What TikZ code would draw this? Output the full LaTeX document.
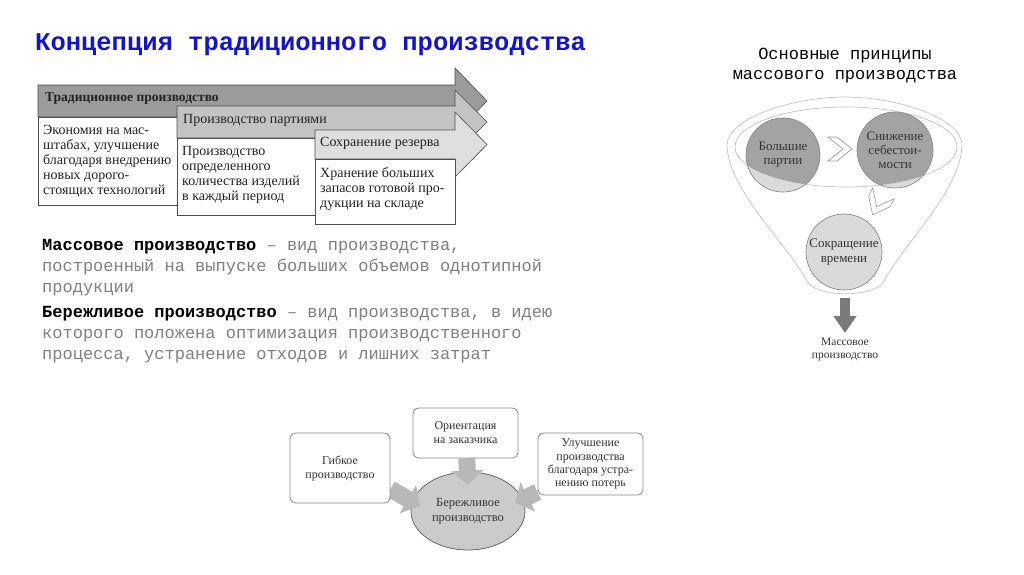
\documentclass[tikz,border=0pt]{standalone}
\usepackage{fontspec}
\setmainfont{Liberation Serif}
\setmonofont{Liberation Mono}
\usetikzlibrary{shapes.geometric, arrows.meta, positioning, backgrounds}
\pgfdeclarelayer{front}
\pgfsetlayers{background,main,front}
\definecolor{TitleBlue}{HTML}{1414C8}
\definecolor{BodyGray}{HTML}{808080}
\definecolor{BandDark}{HTML}{9B9B9B}
\definecolor{BandMid}{HTML}{C3C3C3}
\definecolor{BandLight}{HTML}{DEDEDE}
\definecolor{BandEdge}{HTML}{4D4D4D}
\definecolor{NoteText}{HTML}{222222}
\definecolor{FunnelLine}{HTML}{C4C4C4}
\definecolor{DiscDark}{HTML}{A3A3A3}
\definecolor{DiscLight}{HTML}{DADADA}
\definecolor{DiscEdge}{HTML}{8C8C8C}
\definecolor{ChevronEdge}{HTML}{999999}
\definecolor{MassArrow}{HTML}{7A7A7A}
\definecolor{LeanEdge}{HTML}{8A8A8A}
\definecolor{LeanArrow}{HTML}{B8B8B8}
\definecolor{CoreFill}{HTML}{CBCBCB}
\definecolor{CoreEdge}{HTML}{6A6A6A}
\definecolor{LeanText}{HTML}{333333}
\tikzset{
    % Headings and definitions
    headline/.style={
        anchor=base west,
        inner sep=0pt,
        text=TitleBlue,
        font=\ttfamily\bfseries\fontsize{25.5}{30}\selectfont
    },
    subhead/.style={
        anchor=north,
        inner sep=0pt,
        align=center,
        font=\ttfamily\fontsize{17}{20}\selectfont
    },
    definition/.style={
        anchor=north west,
        inner sep=0pt,
        align=left,
        text=BodyGray,
        font=\ttfamily\fontsize{17}{21}\selectfont
    },
    % Stage arrows (traditional production)
    band/.style={
        draw=BandEdge,
        line width=0.6pt
    },
    band label/.style={
        anchor=base west,
        inner sep=0pt,
        text=NoteText,
        font=\fontsize{14}{15}\selectfont
    },
    note box/.style={
        rectangle,
        draw=BandEdge,
        fill=white,
        line width=0.6pt,
        anchor=north west,
        inner sep=0pt
    },
    note text/.style={
        anchor=north west,
        inner sep=0pt,
        align=left,
        text=NoteText,
        font=\fontsize{14}{15}\selectfont
    },
    % Funnel of mass production
    funnel line/.style={
        draw=FunnelLine,
        line width=0.7pt
    },
    disc/.style={
        circle,
        draw=DiscEdge,
        line width=0.7pt,
        inner sep=0pt,
        align=center,
        text=LeanText,
        font=\fontsize{13}{14}\selectfont
    },
    chevron/.style={
        draw=ChevronEdge,
        fill=white,
        line width=0.6pt
    },
    mass arrow/.style={
        draw=MassArrow,
        line width=10pt,
        -{Triangle[width=22pt,length=17pt]}
    },
    % Lean production
    lean box/.style={
        rectangle,
        rounded corners=6pt,
        draw=LeanEdge,
        fill=white,
        line width=0.8pt,
        inner sep=0pt,
        align=center,
        text=LeanText,
        font=\fontsize{12}{14}\selectfont
    },
    lean core/.style={
        ellipse,
        draw=CoreEdge,
        fill=CoreFill,
        line width=0.8pt,
        inner sep=0pt,
        minimum width=114pt,
        minimum height=78pt,
        align=center,
        text=LeanText,
        font=\fontsize{12.5}{15}\selectfont
    },
    lean arrow/.style={
        draw=LeanArrow,
        line width=17pt,
        -{Triangle[width=32pt,length=14pt]}
    }
}

\begin{document}
\begin{tikzpicture}[x=1pt, y=-1pt]
    \begin{scope}[on background layer]
        \fill[white] (0,0) rectangle (1024,574);
    \end{scope}
    \useasboundingbox (0,0) rectangle (1024,574);

    % Titles
    \node[headline] (title) at (35,50) {Концепция традиционного производства};
    \node[subhead] (principles) at (845,47.5) {Основные принципы\\массового производства};

    % Stage 1
    \path[band, fill=BandDark] (38,85) -- (455,85) -- (455,68) -- (487,101) -- (455,134) -- (455,117) -- (38,117) -- cycle;
    \node[band label, font=\bfseries\fontsize{13.5}{15}\selectfont] (tradition) at (45,101) {Традиционное производство};
    \node[note box, minimum width=139pt, minimum height=88pt] (econ box) at (38,117) {};
    \node[note text] (econ) at ([xshift=5pt,yshift=-8pt]econ box.north west) {Экономия на мас-\\штабах, улучшение\\благодаря внедрению\\новых дорого-\\стоящих технологий};

    % Stage 2
    \path[band, fill=BandMid] (177,106) -- (455,106) -- (455,90) -- (487,122) -- (455,154) -- (455,138) -- (177,138) -- cycle;
    \node[band label] (batches) at (183,123) {Производство партиями};
    \node[note box, minimum width=138pt, minimum height=77pt] (batch box) at (177,138) {};
    \node[note text] (batch) at ([xshift=5pt,yshift=-8pt]batch box.north west) {Производство\\определенного\\количества изделий\\в каждый период};

    % Stage 3
    \path[band, fill=BandLight] (315,130) -- (455,130) -- (455,112) -- (487,144.5) -- (455,177) -- (455,159) -- (315,159) -- cycle;
    \node[band label] (reserve) at (320,146) {Сохранение резерва};
    \node[note box, minimum width=140pt, minimum height=65pt] (stock box) at (315,159) {};
    \node[note text] (stock) at ([xshift=5pt,yshift=-8pt]stock box.north west) {Хранение больших\\запасов готовой про-\\дукции на складе};

    % Definitions
    \node[definition] (mass def) at (42,239.5) {\textcolor{black}{\bfseries Массовое производство} – вид производства,\\построенный на выпуске больших объемов однотипной\\продукции};
    \node[definition] (lean def) at (42,306.5) {\textcolor{black}{\bfseries Бережливое производство} – вид производства, в идею\\которого положена оптимизация производственного\\процесса, устранение отходов и лишних затрат};

    % Funnel
    \path[funnel line, fill=white] (727,145) .. controls (727,118.5) and (792,97) .. (845,97)
        .. controls (898,97) and (962,118.5) .. (962,145)
        .. controls (961,190) and (903,245) .. (884,281)
        .. controls (876,298) and (815,298) .. (807,281)
        .. controls (788,245) and (728,190) .. (727,145) -- cycle;
    \draw[funnel line] (846,147) ellipse [x radius=111pt, y radius=40pt];

    \coordinate (batch c) at (783,155);
    \coordinate (cost c) at (895,150);
    \fill[DiscLight] (batch c) circle[radius=37pt];
    \fill[DiscLight] (cost c) circle[radius=38pt];
    \begin{scope}
        \clip (846,147) ellipse [x radius=111pt, y radius=40pt];
        \fill[DiscDark] (batch c) circle[radius=37pt];
        \fill[DiscDark] (cost c) circle[radius=38pt];
    \end{scope}
    \node[disc, minimum size=74pt] (big batch) at (batch c) {Большие\\партии};
    \node[disc, minimum size=76pt] (cost) at (cost c) {Снижение\\себестои-\\мости};
    \node[disc, fill=DiscLight, minimum size=76pt, font=\fontsize{13}{15}\selectfont] (time) at (844,252) {Сокращение\\времени};

    \path[chevron, shift={(840,149)}] (-12,-12) -- (-3,-12) -- (12,0) -- (-3,12) -- (-12,12) -- (3,0) -- cycle;
    \path[chevron, shift={(878,204)}, rotate=-117] (-12,-12) -- (-3,-12) -- (12,0) -- (-3,12) -- (-12,12) -- (3,0) -- cycle;

    \coordinate (funnel tip) at (845,298);
    \node[anchor=north, inner sep=0pt, align=center, text=LeanText, font=\fontsize{11.5}{12.5}\selectfont] (mass) at (845,338) {Массовое\\производство};
    \draw[mass arrow] (funnel tip) -- ([yshift=5pt]mass.north);

    % Lean production
    \begin{pgfonlayer}{front}
        \node[lean box, minimum width=100pt, minimum height=70pt] (flex) at (340,468) {Гибкое\\производство};
        \node[lean box, minimum width=105pt, minimum height=50pt] (client) at (465.5,433) {Ориентация\\на заказчика};
        \node[lean box, minimum width=105pt, minimum height=62pt, font=\fontsize{12}{13.3}\selectfont] (waste) at (590.5,464) {Улучшение\\производства\\благодаря устра-\\нению потерь};
    \end{pgfonlayer}
    \node[lean core] (lean) at (468,511) {Бережливое\\производство};

    \draw[lean arrow] ([yshift=-21pt]flex.east) -- ([xshift=9pt]lean.175);
    \draw[lean arrow] (client) -- ([yshift=-13pt]lean.north);
    \draw[lean arrow] ([yshift=-28pt]waste.west) -- ([xshift=-9pt]lean.8);
\end{tikzpicture}
\end{document}
